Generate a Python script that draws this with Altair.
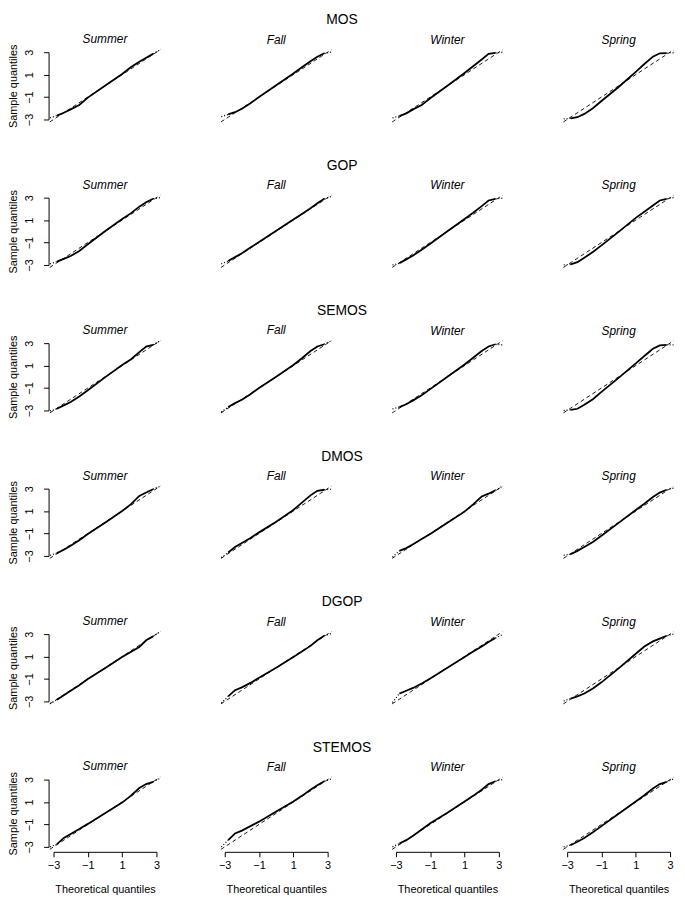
import altair as alt
import pandas as pd

MODELS = ["MOS", "GOP", "SEMOS", "DMOS", "DGOP", "STEMOS"]
SEASONS = ["Summer", "Fall", "Winter", "Spring"]

THEO = [-3.2, -2.8, -2.4, -2.0, -1.5, -1.0, 0.0, 1.0, 1.5, 2.0, 2.4, 2.8, 3.2]

MOS = {
    "Summer": [-2.85, -2.65, -2.4, -2.1, -1.7, -1.05, 0.0, 1.05, 1.65, 2.15, 2.5, 2.85, 3.2],
    "Fall":   [-2.75, -2.55, -2.35, -2.05, -1.55, -1.0, 0.05, 1.1, 1.65, 2.2, 2.6, 2.9, 3.0],
    "Winter": [-2.85, -2.7, -2.45, -2.1, -1.7, -1.1, 0.0, 1.15, 1.75, 2.35, 2.85, 2.95, 3.0],
    "Spring": [-2.95, -2.9, -2.8, -2.5, -2.0, -1.35, -0.1, 1.25, 1.95, 2.6, 2.9, 2.92, 2.95],
}
GOP = {
    "Summer": [-2.9, -2.7, -2.45, -2.2, -1.75, -1.15, 0.0, 1.1, 1.6, 2.2, 2.6, 2.9, 3.0],
    "Fall":   [-2.9, -2.65, -2.3, -1.95, -1.45, -0.95, 0.05, 1.05, 1.55, 2.05, 2.5, 2.9, 3.1],
    "Winter": [-3.0, -2.85, -2.5, -2.15, -1.65, -1.1, 0.0, 1.1, 1.65, 2.25, 2.75, 2.9, 2.95],
    "Spring": [-3.0, -2.95, -2.75, -2.35, -1.85, -1.25, -0.05, 1.2, 1.75, 2.3, 2.75, 2.9, 3.0],
}
SEMOS = {
    "Summer": [-3.05, -2.85, -2.55, -2.25, -1.75, -1.2, -0.05, 1.05, 1.55, 2.2, 2.7, 2.85, 3.2],
    "Fall":   [-3.15, -2.7, -2.35, -2.05, -1.55, -1.0, 0.0, 1.05, 1.65, 2.3, 2.7, 2.9, 3.2],
    "Winter": [-2.85, -2.7, -2.45, -2.1, -1.65, -1.1, 0.0, 1.1, 1.7, 2.3, 2.7, 2.9, 2.85],
    "Spring": [-3.0, -2.95, -2.85, -2.5, -2.0, -1.35, -0.1, 1.2, 1.85, 2.5, 2.8, 2.85, 2.85],
}
DMOS = {
    "Summer": [-2.95, -2.75, -2.45, -2.1, -1.6, -1.05, -0.05, 1.0, 1.6, 2.35, 2.65, 2.95, 3.2],
    "Fall":   [-3.15, -2.7, -2.2, -1.85, -1.4, -0.9, 0.05, 1.1, 1.75, 2.4, 2.8, 2.9, 2.95],
    "Winter": [-3.1, -2.55, -2.3, -1.95, -1.5, -1.05, -0.05, 0.95, 1.6, 2.3, 2.55, 2.85, 3.2],
    "Spring": [-2.95, -2.85, -2.55, -2.2, -1.75, -1.2, -0.05, 1.1, 1.65, 2.25, 2.65, 2.9, 3.05],
}
DGOP = {
    "Summer": [-3.2, -2.85, -2.45, -2.05, -1.55, -1.0, -0.05, 0.95, 1.4, 1.85, 2.45, 2.8, 3.2],
    "Fall":   [-3.15, -2.55, -2.0, -1.75, -1.35, -0.9, 0.0, 0.95, 1.45, 1.95, 2.45, 2.85, 3.05],
    "Winter": [-3.1, -2.3, -2.05, -1.8, -1.4, -0.95, 0.0, 0.95, 1.45, 1.9, 2.3, 2.65, 2.95],
    "Spring": [-2.95, -2.75, -2.55, -2.3, -1.85, -1.3, -0.05, 1.25, 1.9, 2.35, 2.6, 2.85, 3.0],
}
STEMOS = {
    "Summer": [-3.0, -2.75, -2.2, -1.85, -1.4, -0.95, 0.0, 0.95, 1.55, 2.25, 2.6, 2.8, 3.1],
    "Fall":   [-3.0, -2.4, -1.8, -1.55, -1.15, -0.75, 0.15, 1.05, 1.55, 2.1, 2.5, 2.85, 3.05],
    "Winter": [-3.0, -2.7, -2.4, -2.0, -1.45, -0.9, 0.05, 1.05, 1.55, 2.1, 2.6, 2.85, 3.0],
    "Spring": [-3.0, -2.85, -2.55, -2.2, -1.7, -1.15, -0.05, 1.05, 1.6, 2.2, 2.6, 2.8, 3.05],
}
SAMPLES = {"MOS": MOS, "GOP": GOP, "SEMOS": SEMOS, "DMOS": DMOS, "DGOP": DGOP, "STEMOS": STEMOS}

# reference (qqline) end points
REF_X = [-3.22, 3.22]
REF_Y = [-3.22, 3.22]

TICKS = [-3, -1, 1, 3]

FONT = "Liberation Sans"
W, H = 104, 68
GAP_X, GAP_Y = 69, 147


def panel(model, season, left, bottom):
    ys = SAMPLES[model][season]
    main = pd.DataFrame({"x": THEO[1:-1], "y": ys[1:-1]})
    tail = pd.DataFrame({
        "x": [THEO[0], THEO[1], THEO[-2], THEO[-1]],
        "y": [ys[0], ys[1], ys[-2], ys[-1]],
        "seg": ["lo", "lo", "hi", "hi"],
    })
    ref = pd.DataFrame({"x": REF_X, "y": REF_Y})

    xs = alt.Scale(domain=[-3, 3], nice=False, zero=False)
    ysc = alt.Scale(domain=[-3, 3], nice=False, zero=False)

    if bottom:
        xaxis = alt.Axis(values=TICKS, title="Theoretical quantiles", offset=5,
                         tickSize=5, labelPadding=3, labelFontSize=11, titleFontSize=11,
                         titleY=38, titleBaseline="middle", grid=False, labelFlush=False)
    else:
        xaxis = None
    if left:
        yaxis = alt.Axis(values=TICKS, title="Sample quantiles", offset=5, tickSize=5,
                         labelAngle=270, labelAlign="center", labelBaseline="middle",
                         labelPadding=14, labelFontSize=11, titleFontSize=11,
                         titleAngle=270, titleX=-35, titleAlign="center",
                         titleBaseline="middle", grid=False, labelFlush=False)
    else:
        yaxis = None

    X = alt.X("x:Q", scale=xs, axis=xaxis)
    Y = alt.Y("y:Q", scale=ysc, axis=yaxis)

    l_main = alt.Chart(main).mark_line(color="black", strokeWidth=1.8).encode(x=X, y=Y)
    l_tail = alt.Chart(tail).mark_line(color="black", strokeWidth=1.3,
                                       strokeDash=[1, 2]).encode(x=X, y=Y, detail="seg:N")
    l_ref = alt.Chart(ref).mark_line(color="black", strokeWidth=0.9,
                                     strokeDash=[4, 3]).encode(x=X, y=Y)
    return alt.layer(l_ref, l_main, l_tail).properties(
        width=W, height=H,
        title=alt.TitleParams(season, fontStyle="italic", fontSize=12, font=FONT,
                              fontWeight="normal", anchor="middle", offset=0,
                              dy=2 if left else -1),
    )


rows = []
for i, m in enumerate(MODELS):
    panels = [panel(m, s, j == 0, i == len(MODELS) - 1) for j, s in enumerate(SEASONS)]
    row = alt.hconcat(*panels, spacing=GAP_X, bounds="flush").properties(
        title=alt.TitleParams(m, fontSize=14, font=FONT, fontWeight="normal",
                              anchor="middle", offset=0, dy=-6)
    )
    rows.append(row)

chart = alt.vconcat(*rows, spacing=GAP_Y, bounds="flush").properties(
    padding={"left": 0, "top": 0, "right": 0, "bottom": 0},
).configure_view(stroke=None).configure_axis(
    domainColor="black", tickColor="black", labelColor="black", titleColor="black",
    labelFont=FONT, titleFont=FONT, titleFontWeight="normal", grid=False
).configure_title(font=FONT, color="black", fontWeight="normal")

chart.save("out.html", embed_options={"renderer": "svg", "actions": False})
